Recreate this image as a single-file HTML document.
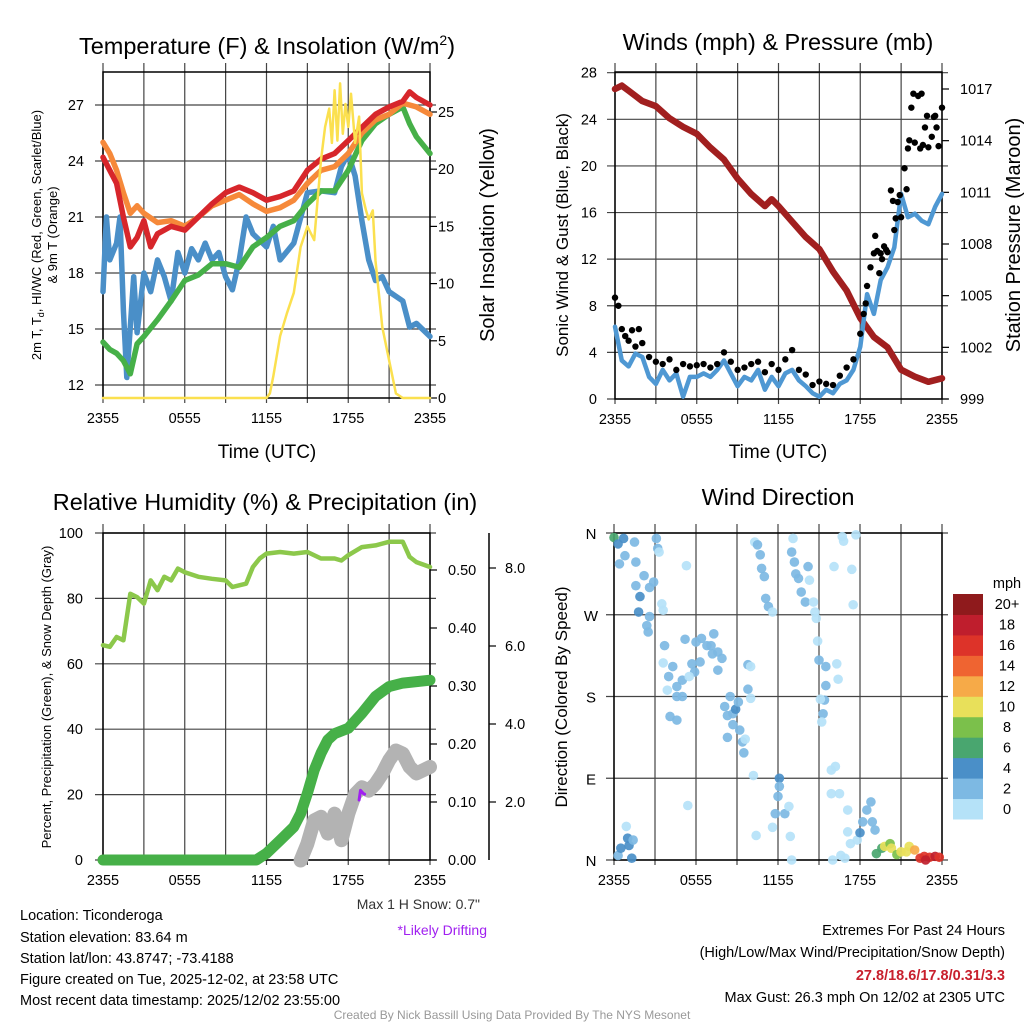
<!DOCTYPE html>
<html><head><meta charset="utf-8"><style>
html,body{margin:0;padding:0;background:#fff;}
svg{display:block;font-family:"Liberation Sans",sans-serif;}
</style></head><body>
<svg id="chart" xmlns="http://www.w3.org/2000/svg" width="1024" height="1024" viewBox="0 0 1024 1024">
<rect x="0" y="0" width="1024" height="1024" fill="#fff"/>
<g id="p1"></g>
<g id="p2"></g>
<g id="p3"></g>
<g id="p4"></g>
<text x="267" y="54" font-size="23.5" text-anchor="middle">Temperature (F) &amp; Insolation (W/m<tspan font-size="14" dy="-9">2</tspan><tspan dy="9">)</tspan></text>
<text x="778" y="50" font-size="23.5" text-anchor="middle">Winds (mph) &amp; Pressure (mb)</text>
<text x="265" y="510" font-size="23.5" text-anchor="middle">Relative Humidity (%) &amp; Precipitation (in)</text>
<text x="778" y="505" font-size="23.5" text-anchor="middle">Wind Direction</text>
<text x="267" y="458" font-size="19" text-anchor="middle">Time (UTC)</text>
<text x="778" y="458" font-size="19" text-anchor="middle">Time (UTC)</text>
<text transform="translate(41,235) rotate(-90)" font-size="13" text-anchor="middle">2m T, T<tspan font-size="9" dy="3">d</tspan><tspan dy="-3">, HI/WC (Red, Green, Scarlet/Blue)</tspan></text>
<text transform="translate(57,235) rotate(-90)" font-size="13" text-anchor="middle">&amp; 9m T (Orange)</text>
<text transform="translate(494,235) rotate(-90)" font-size="20" text-anchor="middle">Solar Insolation (Yellow)</text>
<text transform="translate(568,235) rotate(-90)" font-size="17" text-anchor="middle">Sonic Wind &amp; Gust (Blue, Black)</text>
<text transform="translate(1020,235) rotate(-90)" font-size="20" text-anchor="middle">Station Pressure (Maroon)</text>
<text transform="translate(51,697) rotate(-90)" font-size="13" text-anchor="middle">Percent, Precipitation (Green), &amp; Snow Depth (Gray)</text>
<text transform="translate(567,697) rotate(-90)" font-size="17" text-anchor="middle">Direction (Colored By Speed)</text>
<text x="480" y="909" font-size="14" text-anchor="end" fill="#333">Max 1 H Snow: 0.7"</text>
<text x="487" y="935" font-size="14" text-anchor="end" fill="#a020f0">*Likely Drifting</text>
<g font-size="14.5">
<text x="20" y="920">Location: Ticonderoga</text>
<text x="20" y="942">Station elevation: 83.64 m</text>
<text x="20" y="963">Station lat/lon: 43.8747; -73.4188</text>
<text x="20" y="984">Figure created on Tue, 2025-12-02, at 23:58 UTC</text>
<text x="20" y="1005">Most recent data timestamp: 2025/12/02 23:55:00</text>
</g>
<g font-size="14.5" text-anchor="end">
<text x="1005" y="935">Extremes For Past 24 Hours</text>
<text x="1005" y="957">(High/Low/Max Wind/Precipitation/Snow Depth)</text>
<text x="1005" y="980" fill="#c8202d" font-weight="bold">27.8/18.6/17.8/0.31/3.3</text>
<text x="1005" y="1002">Max Gust: 26.3 mph On 12/02 at 2305 UTC</text>
</g>
<text x="512" y="1019" font-size="12" fill="#999" text-anchor="middle">Created By Nick Bassill Using Data Provided By The NYS Mesonet</text>
</svg>
<script>
// ---------- data ----------
const xTickLabels = ["2355","0555","1155","1755","2355"];
// panel 1 (hours since 2355)
const tT = [0,1,1.5,2,2.5,3,3.5,4,5,6,7,8,9,10,11,12,13,14,15,16,17,18,19,20,21,22,22.5,23,24];
const tempRed = [24.2,22.8,21,19.4,19.9,20.8,19.4,20.1,20.5,20.3,21,21.7,22.3,22.6,22.3,21.9,22.1,22.4,23.5,24.1,24.4,25.1,25.8,26.5,26.9,27.2,27.7,27.4,27];
const tO = [0,0.5,1,1.5,2,2.5,3,4,5,6,7,8,9,10,11,12,13,14,15,16,17,18,19,20,21,22,23,24];
const tempOrange = [25,24.4,23.5,22.3,21.2,21.6,21.2,20.7,20.8,20.5,21,21.6,21.9,22.2,21.7,21.3,21.5,21.9,22.8,23.5,23.7,24.4,25.5,26.2,26.5,27.1,26.9,26.5];
const tG = [0,0.5,1,1.5,2,2.5,3,4,5,6,7,8,9,10,11,12,13,14,15,16,17,18,19,20,21,22,22.5,23,24];
const tempGreen = [14.3,13.9,13.7,13.3,12.6,14.2,14.6,15.5,16.5,17.6,17.9,18.5,18.5,18.3,19.4,19.9,20.5,20.8,21.7,22.4,22.4,23.5,25.1,26,26.5,26.9,26,25.3,24.4];
const tB = [0,0.25,0.5,1,1.25,1.5,1.75,2,2.25,2.5,3,3.5,4,4.5,5,5.5,6,6.5,7,7.5,8,8.5,9,9.5,10,10.5,11,12,12.5,13,14,15,16,17,17.5,18,18.5,19,19.5,20,20.5,21,22,22.5,23,24];
const tempBlue = [17,21,18.7,19.6,21,16,12.4,15.1,17.8,14.8,18,17,18.7,17.8,16.5,19.1,18,19.3,18.7,19.6,18.7,19.1,17.8,17.1,18.7,21,20.1,19.4,20.5,18.7,19.6,22.3,22.4,22.3,23.7,24.4,23.2,20.8,18.7,17.6,17.8,17,16.5,15.1,15.3,14.6];
const tY = [0,12,12.25,12.5,13,13.5,14,14.5,15,15.5,16,16.3,16.6,16.8,17,17.2,17.4,17.6,17.8,18,18.2,18.5,18.8,19,19.3,19.5,19.8,20,20.5,21,21.5,22,24];
const insolation = [0,0,0.4,1.9,5.4,7.4,9.2,13.2,15,13.8,20.8,23.7,25.3,22.3,26.9,22.5,27.5,23.1,25.7,23.7,26.6,22.3,24.6,17.9,16.4,15.6,16.4,12,6.2,3.3,0.4,0,0];
const tempTicks = [12,15,18,21,24,27];
const insTicks = [0,5,10,15,20,25];
// panel 2
const tP = [0,0.5,1,2,3,4,5,6,7,8,9,10,11,11.5,12,13,14,15,16,17,18,19,20,21,22,23,24];
const pressure = [1017,1017.2,1016.9,1016.3,1016,1015.3,1014.8,1014.4,1013.6,1012.9,1011.8,1010.9,1010.2,1010.6,1010.2,1009.3,1008.4,1007.7,1006.4,1005.3,1003.7,1002.6,1002,1000.7,1000.3,1000,1000.2];
const tW = [0,0.5,1,1.5,2,2.5,3,3.5,4,4.5,5,5.5,6,6.5,7,7.5,8,8.5,9,9.5,10,10.5,11,11.5,12,12.5,13,13.5,14,14.5,15,15.5,16,16.5,17,17.5,18,18.5,19,19.5,20,20.5,21,21.5,22,22.5,23,23.5,24];
const windSpeed = [6.2,3.3,2.8,3.9,3.6,1.9,1.3,2.5,1.6,2.2,0.2,1.9,1.9,2.2,1.9,2.5,3.3,2.2,1.1,1.9,1.6,2.5,0.8,1.9,1.1,2.2,2.5,1.6,1.1,0.5,0.2,0.8,0.5,1.3,1.6,2.5,4.5,9,7.3,10.2,11.3,13,17.6,15.6,15.9,15.3,15,16.5,17.6];
const tGust = [0,0.25,0.5,0.75,1,1.25,1.5,1.75,2,2.5,3,3.5,4,4.5,5,5.5,6,6.5,7,7.5,8,8.5,9,9.5,10,10.5,11,11.5,12,12.5,13,13.5,14,14.5,15,15.5,16,16.5,17,17.5,18,18.25,18.4,18.5,18.75,19,19.1,19.25,19.4,19.5,19.6,19.75,19.9,20,20.25,20.4,20.5,20.6,20.75,20.9,21,21.25,21.4,21.5,21.6,21.75,21.9,22,22.25,22.4,22.5,22.6,22.75,22.9,23,23.25,23.4,23.5,23.6,23.75,24];
const windGust = [8.7,8,6,5.4,5,5.9,4.5,6,4.8,3.6,3.2,3,3.4,2.5,3,2.8,2.9,3,2.7,3,4,3.2,2.5,2.7,3,3.2,2.3,3,2.5,3.4,4.2,2.5,2.1,1.2,1.5,1.3,1.2,2,2.7,3.4,5.6,7.3,8.2,9.7,11.3,12.5,14,12.7,10.8,12.5,12,13.1,12.8,12.6,17.9,17,14.5,15.5,16.9,17.5,15.6,19.8,18,21.5,22.2,25,26.2,22,26,21.5,26.2,21.8,23.3,24.3,21.6,22.5,24.2,24.3,23.3,21.7,25];
const windTicks = [0,4,8,12,16,20,24,28];
const presTicks = [999,1002,1005,1008,1011,1014,1017];
// panel 3
const tR = [0,0.5,1,1.5,2,2.5,3,3.5,4,4.5,5,5.5,6,7,8,9,9.5,10,10.5,11,11.5,12,13,14,15,16,17,17.5,18,19,20,21,22,22.5,23,24];
const relHum = [65.7,65.2,68.2,67.2,81.4,80.4,78.4,85.5,82.5,86.6,85.5,89.1,88,86.6,86,85.5,83.5,84,84.5,89.6,92.2,93.7,94.2,93.7,94.2,92.2,92.2,91.6,93.2,95.7,96.2,97.3,97.3,92.7,91.1,89.6];
const tPr = [0,11.25,12,13,14,14.5,15,15.5,16,16.5,17,18,19,20,21,22,24];
const precip = [0,0,0.0115,0.034,0.057,0.08,0.115,0.155,0.184,0.207,0.218,0.227,0.253,0.282,0.299,0.305,0.31];
const tS = [14.5,15,15.5,16,16.5,17,17.5,18,18.5,19,19.5,20,20.5,21,21.5,22,22.5,23,24];
const snowDepth = [0.5,0.93,1.53,1.62,1.19,1.7,1.02,1.7,2.2,2.38,2.29,2.47,2.73,3.07,3.32,3.24,2.9,2.73,2.9];
const tDrift = [18.8,18.9,19.1,19.2];
const driftDepth = [2.05,2.3,2.22,2.2];
const rhTicks = [0,20,40,60,80,100];
const precipTicks = [0,0.1,0.2,0.3,0.4,0.5];
const snowTicks = [2,4,6,8];
// panel 4
const wdT = [0,0.3,0.7,0.8,0.4,1.5,1.6,2.2,1.6,1.9,2.6,2.9,1.8,2.6,2.4,2.5,3.1,3.2,3.3,5.3,3.5,3.6,
0.3,0.5,0.9,1,1.1,1.3,1.4,
3.7,3.6,4.3,4,3.9,4.6,5,4.6,5,5.2,5.7,5.9,6,6.4,6.8,7.1,7.3,7.2,7.6,7.9,7.6,6.3,4.1,4.6,5.4,5.5,
8.5,8.1,8.3,8.7,8.9,9.1,8.7,9.2,9.4,9.5,9.6,8.3,9.8,10,9.8,10,10.2,
10.3,10.5,10.7,10.8,11,11.1,11.3,11.6,12.1,12.1,12,11.8,12.5,12.8,11.6,10.4,12.9,13,
13.1,13,13.2,13.3,13.5,13.7,14.2,14,14.3,14.6,14.7,14.8,14.9,15,15.5,16.3,16.4,15.5,15.4,15.3,15.2,15.1,16.1,16.7,16.8,17.7,17.4,17.5,15.9,16.2,15.9,16.5,17.1,17.1,16,16.6,16.9,17.3,17.8,18,18.2,18.5,18.8,18.9,19.1,
19.2,19.6,19.8,20.2,20.3,20.7,21,21.4,21.6,22,22.4,22.7,23.1,23.5,23.8,22.8];
const wdDir = [355,348,354,335,326,350,328,313,302,290,300,306,273,268,258,251,354,343,339,324,282,275,
5,13,37,24,16,2,22,
236,217,213,202,187,191,198,180,180,243,216,207,240,244,236,236,249,227,229,222,209,218,158,154,60,202,
180,169,159,161,166,174,149,143,130,118,133,135,215,213,188,178,93,
350,347,336,321,312,288,279,273,90,81,70,51,51,59,36,27,26,0,
354,339,328,315,310,295,323,284,308,284,273,266,241,220,213,216,199,192,176,161,152,177,323,356,351,358,320,281,99,103,73,73,55,31,0,5,2,18,22,30,42,55,64,42,33,
7,13,15,18,13,6,9,9,15,11,2,4,3,4,3,0];
const wdSpd = [6,4,4,2,2,2,2,2,2,4,2,2,4,2,2,2,2,2,1,1,1,1,
2,4,1,4,4,4,2,
2,1,2,2,1,2,2,2,2,2,2,2,2,2,2,2,2,2,2,2,2,2,2,2,1,1,
2,2,2,2,4,2,2,2,2,2,1,2,2,1,2,1,1,
1,2,2,2,2,2,2,1,4,2,2,2,2,1,1,1,1,1,
1,2,2,2,2,2,2,2,1,1,1,1,1,2,2,1,1,2,2,2,1,1,1,1,1,1,1,1,1,1,1,1,1,1,1,1,1,1,1,4,2,2,2,2,2,
6,6,10,8,10,8,10,10,11,12,16,17,17,18,17,18];
const dirTicks = ["N","E","S","W","N"];
const speedBins = ["0","2","4","6","8","10","12","14","16","18","20+"];
const speedColors = ["#b5e2f8","#7db9e3","#4a8fc8","#49a66f","#7bc04b","#e8e05a","#f6aa48","#ef6431","#dd3329","#bf1e2d","#8f1a1c"];

// ---------- helpers ----------
const NS = "http://www.w3.org/2000/svg";
function mk(tag, attrs, parent){ const e=document.createElementNS(NS,tag); for(const k in attrs) e.setAttribute(k,attrs[k]); parent.appendChild(e); return e; }
function xs(x0,x1){ return t => x0 + t/24*(x1-x0); }
function lin(v0,y0,v1,y1){ return v => y0 + (v-v0)*(y1-y0)/(v1-v0); }
function pathD(ts, vs, fx, fy){ return ts.map((t,i)=>(i?"L":"M")+fx(t).toFixed(1)+","+fy(vs[i]).toFixed(1)).join(""); }
function line(g, ts, vs, fx, fy, color, w, name){
  const p = mk("path",{d:pathD(ts,vs,fx,fy),fill:"none",stroke:color,"stroke-width":w,"stroke-linejoin":"round","stroke-linecap":"round"},g);
  
  
  return p;
}
function frame(g, x0, x1, yT, yB, fx, yGrid, name){
  for(let h=0; h<=24; h+=3){
    const gl = mk("line",{x1:fx(h),x2:fx(h),y1:yT-9,y2:yB+5,stroke:"#444","stroke-width":1.2},g);
    
    
  }
  yGrid.forEach(y=>{
    const gl = mk("line",{x1:x0-8,x2:x1+6,y1:y,y2:y,stroke:"#444","stroke-width":1.2},g);
    
    
  });
  const r = mk("rect",{x:x0,y:yT,width:x1-x0,height:yB-yT,fill:"none",stroke:"#000","stroke-width":1.5},g);
  
  
  xTickLabels.forEach((lab,i)=>{
    const t = mk("text",{x:fx(i*6),y:yB+25,"font-size":14.5,"text-anchor":"middle"},g);
    t.textContent = lab;
    
    
  });
}
function ylabels(g, ticks, fy, x, anchor, fmt, name){
  ticks.forEach(v=>{
    const t = mk("text",{x:x,y:fy(v)+5,"font-size":14.5,"text-anchor":anchor},g);
    t.textContent = fmt(v);
    
    
  });
}
function rticks(g, ticks, fy, x, len){
  ticks.forEach(v=>{
    const l = mk("line",{x1:x,x2:x+len,y1:fy(v),y2:fy(v),stroke:"#000","stroke-width":1.2},g);
    
    
  });
}

// ---------- panel 1 ----------
(function(){
  const g = document.getElementById("p1");
  const x0=103,x1=430,yT=72,yB=398;
  const fx = xs(x0,x1), fy = lin(12,385,27,105), fi = lin(0,398,25,112);
  frame(g,x0,x1,yT,yB,fx,tempTicks.map(fy),"temperature");
  rticks(g, insTicks, fi, x1, 7);
  ylabels(g,tempTicks,fy,84,"end",v=>v,"temperature-tick-label");
  ylabels(g,insTicks,fi,438,"start",v=>v,"insolation-tick-label");
  line(g,tB,tempBlue,fx,fy,"#4a8fc8",5.5,"wind-chill-line");
  line(g,tG,tempGreen,fx,fy,"#46b048",5.5,"dewpoint-line");
  line(g,tO,tempOrange,fx,fy,"#f6893a",5.5,"temperature-9m-line");
  line(g,tT,tempRed,fx,fy,"#d7262b",5.5,"temperature-2m-line");
  line(g,tY,insolation,fx,fi,"#fbe04f",2.5,"insolation-line");
})();

// ---------- panel 2 ----------
(function(){
  const g = document.getElementById("p2");
  const x0=615,x1=942,yT=72,yB=399;
  const fx = xs(x0,x1), fy = lin(0,399,28,72.7), fp = lin(999,399,1017,89);
  frame(g,x0,x1,yT,yB,fx,windTicks.map(fy),"winds");
  rticks(g, presTicks, fp, x1, 7);
  ylabels(g,windTicks,fy,597,"end",v=>v,"wind-tick-label");
  ylabels(g,presTicks,fp,960,"start",v=>v,"pressure-tick-label");
  line(g,tP,pressure,fx,fp,"#a11f1f",6.5,"pressure-line");
  line(g,tW,windSpeed,fx,fy,"#4f98d3",4.5,"wind-speed-line");
  tGust.forEach((t,i)=>{
    const c = mk("circle",{cx:fx(t),cy:fy(windGust[i]),r:3.2,fill:"#000"},g);
    
    
  });
})();

// ---------- panel 3 ----------
(function(){
  const g = document.getElementById("p3");
  const x0=103,x1=430,yT=533,yB=860;
  const fx = xs(x0,x1), fy = lin(0,860,100,533), fp = lin(0,860,0.5,570), fs = lin(2,802,8,568);
  frame(g,x0,x1,yT,yB,fx,rhTicks.map(fy),"humidity");
  rticks(g, precipTicks, fp, x1, 7);
  ylabels(g,rhTicks,fy,83,"end",v=>v,"rh-tick-label");
  ylabels(g,precipTicks,fp,448,"start",v=>v.toFixed(2),"precip-tick-label");
  const ax = mk("line",{x1:489,x2:489,y1:533,y2:860,stroke:"#000","stroke-width":1.5},g);
  
  
  rticks(g, snowTicks, fs, 489, 7);
  ylabels(g,snowTicks,fs,505,"start",v=>v.toFixed(1),"snow-tick-label");
  line(g,tS,snowDepth,fx,fs,"#b3b3b3",14,"snow-depth-line");
  line(g,tDrift,driftDepth,fx,fs,"#a020f0",3,"drifting-line");
  line(g,tPr,precip,fx,fp,"#46b048",11,"precipitation-line");
  line(g,tR,relHum,fx,fy,"#8cc84b",4.5,"humidity-line");
})();

// ---------- panel 4 ----------
(function(){
  const g = document.getElementById("p4");
  const x0=614,x1=942,yT=533,yB=860;
  const fx = xs(x0,x1), fy = lin(0,860,360,533);
  frame(g,x0,x1,yT,yB,fx,[0,90,180,270,360].map(fy),"direction");
  dirTicks.forEach((lab,i)=>{
    const t = mk("text",{x:591,y:fy(i*90)+6,"font-size":15,"text-anchor":"middle"},g);
    t.textContent = lab;
    
    
  });
  wdT.forEach((t,i)=>{
    const bin = Math.min(10, Math.floor(wdSpd[i]/2));
    const c = mk("circle",{cx:fx(t),cy:fy(wdDir[i]),r:4.8,fill:speedColors[bin],"fill-opacity":0.92},g);
    
    
  });
  const cb = document.createElementNS(NS,"g"); g.appendChild(cb);
  
  
  const top=594, h=(819-594)/11;
  const m = mk("text",{x:1007,y:588,"font-size":14.5,"text-anchor":"middle"},cb);
  m.textContent = "mph";
  
  
  speedBins.forEach((lab,i)=>{
    const y = top + (10-i)*h;
    const r = mk("rect",{x:953,y:y,width:30,height:h+0.5,fill:speedColors[i]},cb);
    
    
    const t = mk("text",{x:1007,y:y+h/2+5,"font-size":14.5,"text-anchor":"middle"},cb);
    t.textContent = lab;
    
    
  });
})();
</script>
</body></html>
